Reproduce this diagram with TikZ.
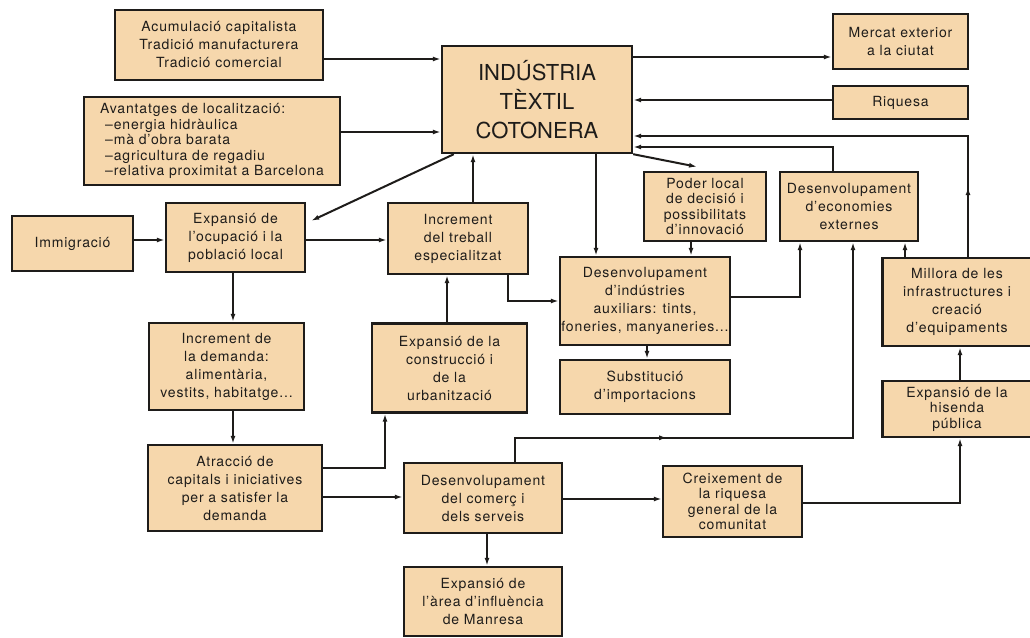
\documentclass[tikz,border=0pt]{standalone}
\usepackage{fontspec}
\setmainfont{TeX Gyre Heros}
\newfontfamily\boxfont[LetterSpace=6,Ligatures=TeX]{TeX Gyre Heros}
\newfontfamily\titlefont[Ligatures=TeX]{TeX Gyre Heros}
\usetikzlibrary{arrows.meta,decorations.markings}
\definecolor{boxtan}{RGB}{246,215,172}
\definecolor{ink}{RGB}{30,28,26}

\begin{document}
\begin{tikzpicture}[x=1pt,y=-1pt,
  box/.style={draw=ink,line width=2.4pt,fill=boxtan,inner sep=0pt,align=center,text=ink,
    font=\boxfont\fontsize{14}{18}\selectfont},
  tight/.style={font=\boxfont\fontsize{14}{15.5}\selectfont},
  arr/.style={draw=ink,line width=2pt,-{Latex[length=8pt,width=5pt]}},
  midmark/.style={postaction={decorate},decoration={markings,
    mark=at position #1 with {\arrow{Latex[length=8pt,width=5pt]}}}}]

\useasboundingbox (0,0) rectangle (1030,637);
\fill [white] (0,0) rectangle (1030,637);

\begin{scope}[every node/.style={box}]

\node [minimum width=208pt,minimum height=70pt] (acum) at (219,45)
  {Acumulació capitalista\\Tradició manufacturera\\Tradició comercial};
\node [minimum width=256pt,minimum height=88pt,align=left,tight] (avant) at (212,141)
  {Avantatges de localització:\\\hspace*{5pt}–energia hidràulica\\\hspace*{5pt}–mà d'obra barata\\
   \hspace*{5pt}–agricultura de regadiu\\\hspace*{5pt}–relativa proximitat a Barcelona};
\node [minimum width=190pt,minimum height=107pt,font=\titlefont\fontsize{22}{29}\selectfont] (ind) at (537,99.5)
  {INDÚSTRIA\\TÈXTIL\\COTONERA};
\node [minimum width=135pt,minimum height=55pt] (mercat) at (900.5,41.5) {Mercat exterior\\a la ciutat};
\node [minimum width=135pt,minimum height=33pt] (riquesa) at (900.5,102.5) {Riquesa};

\node [minimum width=121pt,minimum height=55pt] (immig) at (72.5,243.5) {Immigració};
\node [minimum width=139pt,minimum height=69pt] (expocup) at (235.5,237.5)
  {Expansió de\\l'ocupació i la\\població local};
\node [minimum width=140pt,minimum height=71pt] (inctreb) at (458,238.5)
  {Increment\\del treball\\especialitzat};
\node [minimum width=122pt,minimum height=69pt,tight] (poder) at (705,206.5)
  {Poder local\\de decisió i\\possibilitats\\d'innovació};
\node [minimum width=138pt,minimum height=69pt] (deseco) at (849,206.5)
  {Desenvolupament\\d'economies\\externes};

\node [minimum width=170pt,minimum height=88pt] (desind) at (645,301)
  {Desenvolupament\\d'indústries\\auxiliars: tints,\\foneries, manyaneries...};
\node [minimum width=170pt,minimum height=54pt] (subst) at (645,387) {Substitució\\d'importacions};
\node [minimum width=149pt,minimum height=88pt] (millora) at (957,302)
  {Millora de les\\infrastructures i\\creació\\d'equipaments};
\node [minimum width=149pt,minimum height=56pt,tight] (hisenda) at (957,409)
  {Expansió de la\\hisenda\\pública};

\node [minimum width=155pt,minimum height=87pt] (incdem) at (226.5,366.5)
  {Increment de\\la demanda:\\alimentària,\\vestits, habitatge...};
\node [minimum width=155pt,minimum height=89pt] (expcons) at (449.5,368)
  {Expansió de la\\construcció i\\de la\\urbanització};
\node [minimum width=174pt,minimum height=86pt] (atrac) at (235,488)
  {Atracció de\\capitals i iniciatives\\per a satisfer la\\demanda};
\node [minimum width=158pt,minimum height=70pt] (comerc) at (483,498)
  {Desenvolupament\\del comerç i\\dels serveis};
\node [minimum width=139pt,minimum height=71pt,tight] (creix) at (732.5,501.5)
  {Creixement de\\la riquesa\\general de la\\comunitat};
\node [minimum width=158pt,minimum height=69pt] (area) at (483,601.5)
  {Expansió de\\l'àrea d'influència\\de Manresa};

\end{scope}

\foreach \a/\b/\y in {acum/ind/59, avant/ind/132, ind/mercat/57, immig/expocup/240,
    expocup/inctreb/240, atrac/comerc/497, comerc/creix/499}
  \draw [arr] (\a.east |- 0,\y) -- (\b.west |- 0,\y);

\draw [arr] (riquesa.west |- 0,100) -- (ind.east |- 0,100);

\foreach \a/\b/\x in {expocup/incdem/233, incdem/atrac/233, ind/desind/596,
    poder/desind/691, desind/subst/647, comerc/area/487}
  \draw [arr] (\a.south -| \x,0) -- (\b.north -| \x,0);

\foreach \a/\b/\x in {inctreb/ind/473, expcons/inctreb/447, millora/deseco/905, hisenda/millora/960}
  \draw [arr] (\a.north -| \x,0) -- (\b.south -| \x,0);

\draw [arr] ([xshift=13pt]ind.south west) -- ([xshift=5pt,yshift=-19pt]expocup.north east);
\draw [arr] (ind.south east) -- ([xshift=-8pt,yshift=4pt]poder.north);

\draw [arr,midmark=0.153] (millora.north -| 968,0) |- (ind.east |- 0,136);
\draw [arr] (deseco.north -| 833,0) |- (ind.east |- 0,147);

\draw [arr] (atrac.east |- 0,468) -| (expcons.south -| 385,0);
\draw [arr] (inctreb.south -| 508,0) |- (desind.west);
\draw [arr] (desind.east |- 0,297) -| (deseco.south -| 800,0);
\draw [arr,midmark=0.316] (comerc.north -| 515,0) -- ++(0,-24) -| (deseco.south -| 853,0);
\draw [arr] (creix.east |- 0,503) -| (hisenda.south -| 960,0);

\end{tikzpicture}
\end{document}
